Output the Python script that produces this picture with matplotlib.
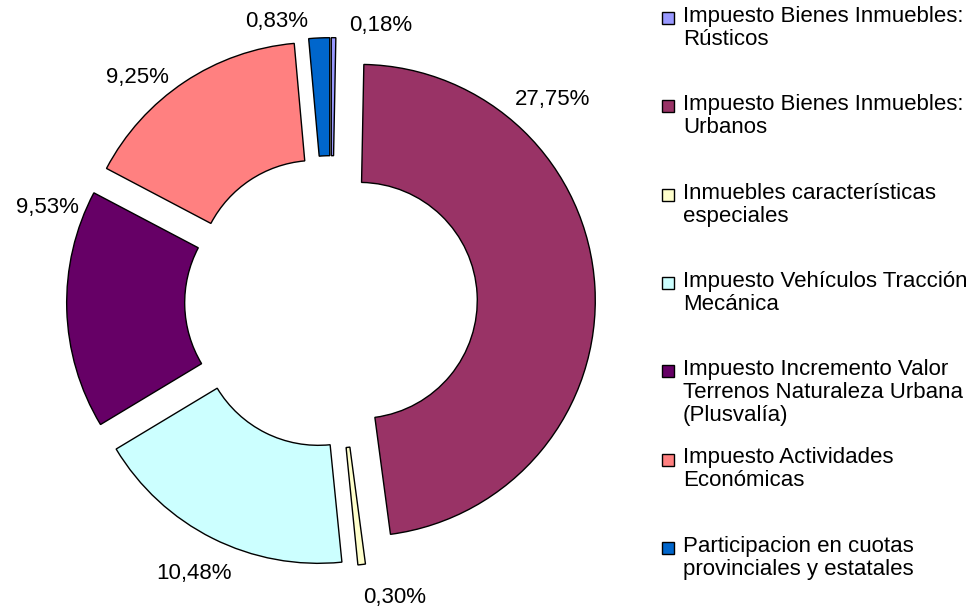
import matplotlib.pyplot as plt
from matplotlib.patches import Rectangle

plt.rcParams['font.family'] = ['Liberation Sans', 'DejaVu Sans']

# Data
categories = [
    'Impuesto Bienes Inmuebles:\nRústicos',
    'Impuesto Bienes Inmuebles:\nUrbanos',
    'Inmuebles características\nespeciales',
    'Impuesto Vehículos Tracción\nMecánica',
    'Impuesto Incremento Valor\nTerrenos Naturaleza Urbana\n(Plusvalía)',
    'Impuesto Actividades\nEconómicas',
    'Participacion en cuotas\nprovinciales y estatales',
]
percentages = [0.18, 27.75, 0.30, 10.48, 9.53, 9.25, 0.83]
colors = ['#9999FF', '#993366', '#FFFFCC', '#CCFFFF', '#660066', '#FF8080', '#0066CC']

# label placement (axes data units, pie radius = 1)
label_pos = [(0.21, 1.17), (0.94, 0.86), (0.27, -1.25), (-0.58, -1.15),
             (-1.20, 0.40), (-0.82, 0.95), (-0.23, 1.19)]

W, H = 971, 609
fig = plt.figure(figsize=(W / 100, H / 100), dpi=100)

# square axes, pie centre at (331, 302) px, radius 236 px
lim = 1.35
side = 2 * lim * 236
cx, cy = 331, 302
ax = fig.add_axes([(cx - side / 2) / W, (H - cy - side / 2) / H, side / W, side / H])

ax.pie(percentages, colors=colors, startangle=90, counterclock=False,
       explode=[0.12] * len(percentages), radius=1.0,
       wedgeprops=dict(width=0.5, edgecolor='black', linewidth=1.0))
ax.set_xlim(-lim, lim)
ax.set_ylim(-lim, lim)
ax.set_axis_off()

for val, (x, y) in zip(percentages, label_pos):
    ax.text(x, y, f'{val:.2f}%'.replace('.', ','), ha='center', va='center',
            fontsize=16, color='black')

# legend, evenly spaced slots like the original
top = 18
step = 88.3
for i, (lab, col) in enumerate(zip(categories, colors)):
    yc = top + i * step
    fig.add_artist(Rectangle((662 / W, (H - yc - 6) / H), 12 / W, 12 / H,
                             transform=fig.transFigure, facecolor=col,
                             edgecolor='black', linewidth=1.0))
    fig.text(683 / W, (H - yc + 12) / H, lab, ha='left', va='top',
             fontsize=16, linespacing=1.12)

fig.savefig('out.png', dpi=100)
